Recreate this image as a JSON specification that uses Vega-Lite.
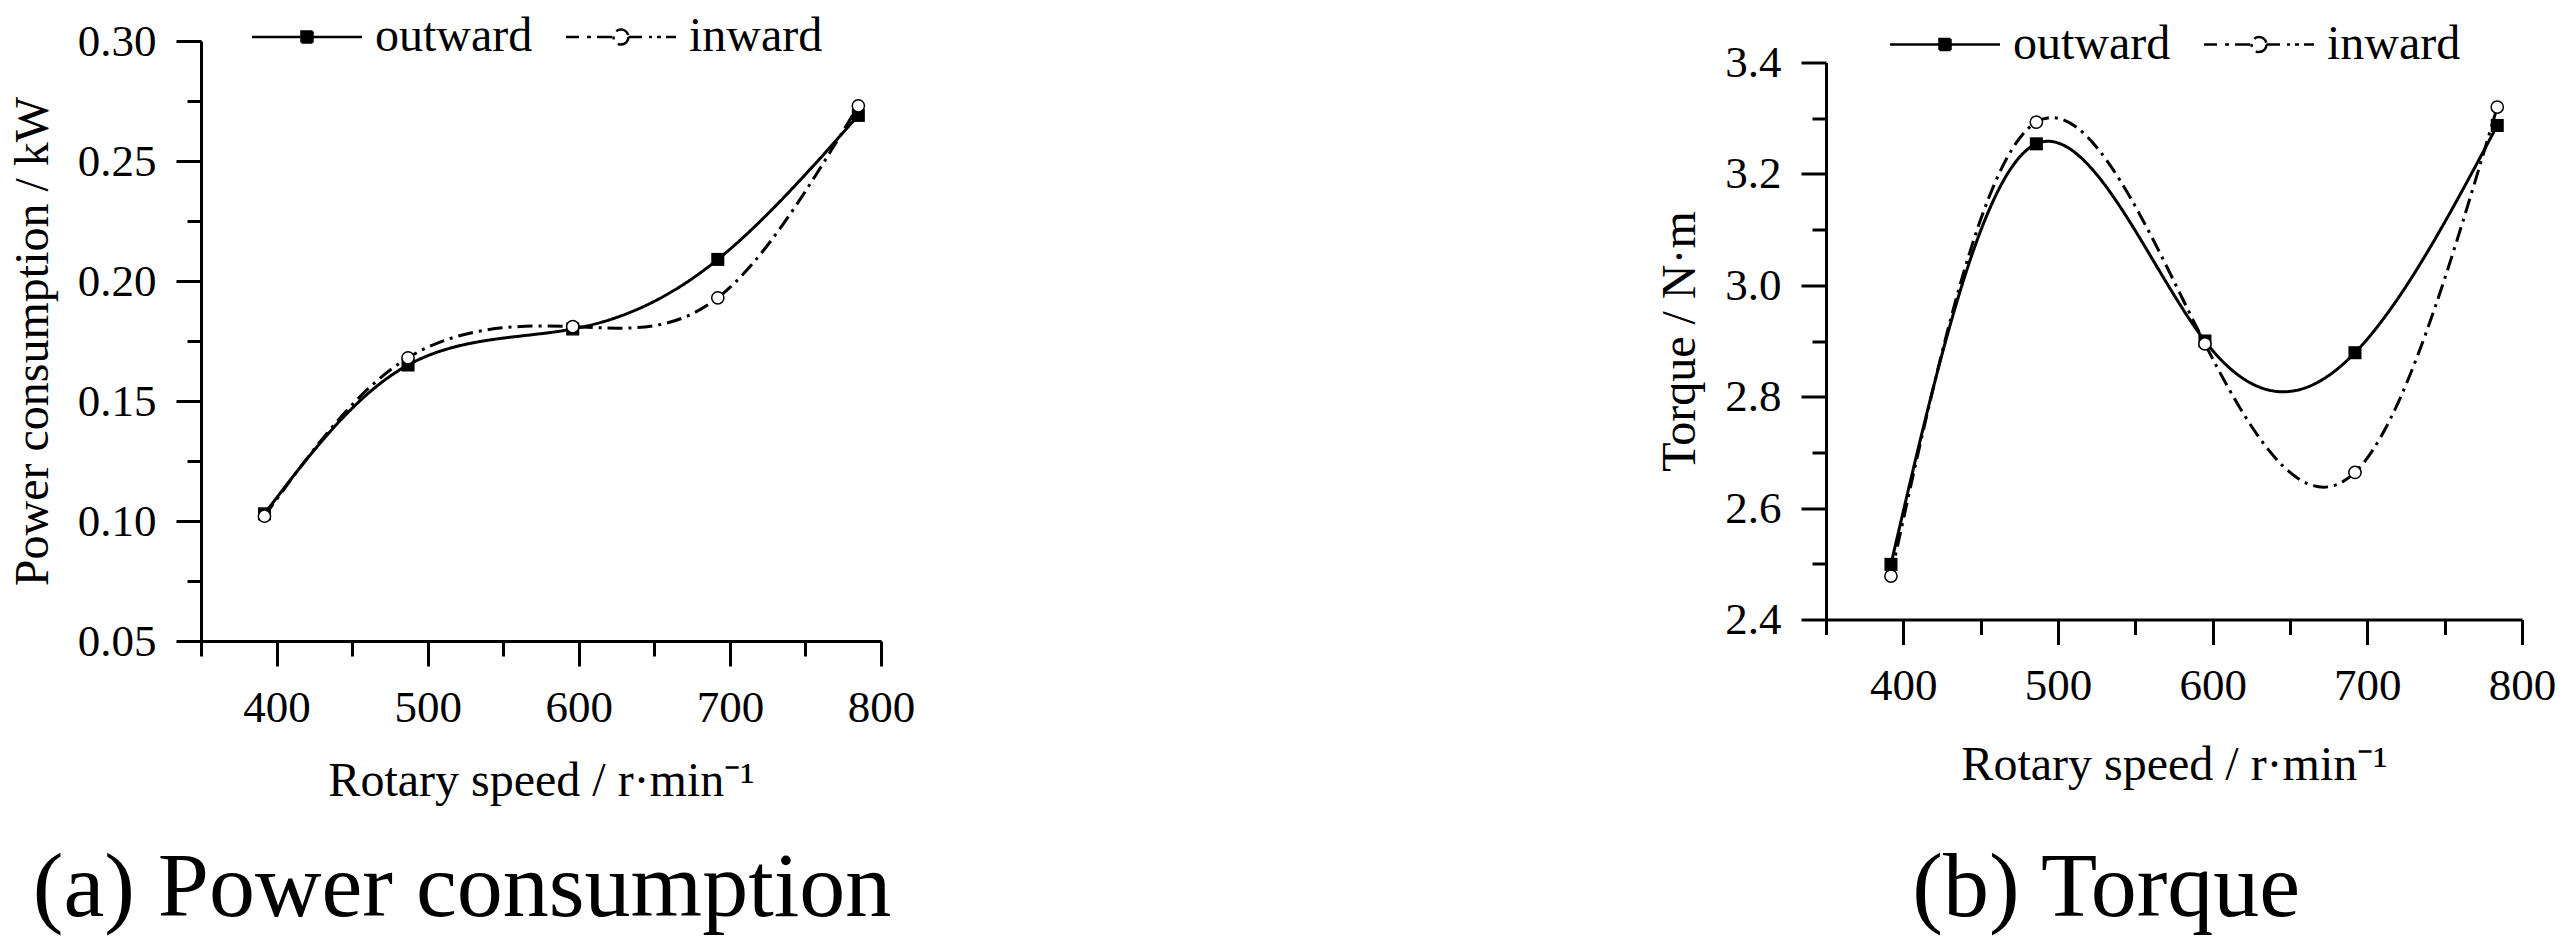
{
  "$schema": "https://vega.github.io/schema/vega-lite/v6.json",
  "background": "white",
  "padding": {"left": 9, "top": 13, "right": 5, "bottom": 5},
  "config": {
    "font": "Liberation Serif",
    "view": {"stroke": null},
    "axis": {"grid": false, "domainColor": "black", "domainWidth": 3, "tickColor": "black", "tickWidth": 3, "labelColor": "black", "titleColor": "black", "labelFontSize": 45, "titleFontSize": 48, "titleFontWeight": "normal", "labelFont": "Liberation Serif", "titleFont": "Liberation Serif"},
    "legend": {"labelFont": "Liberation Serif", "labelFontSize": 48, "labelColor": "black"},
    "title": {"font": "Liberation Serif", "fontWeight": "normal", "color": "black"}
  },
  "datasets": {
    "power": [
      {"speed": 392, "value": 0.103, "series": "outward"},
      {"speed": 487, "value": 0.165, "series": "outward"},
      {"speed": 596, "value": 0.180, "series": "outward"},
      {"speed": 692, "value": 0.209, "series": "outward"},
      {"speed": 785, "value": 0.269, "series": "outward"},
      {"speed": 392, "value": 0.102, "series": "inward"},
      {"speed": 487, "value": 0.168, "series": "inward"},
      {"speed": 596, "value": 0.181, "series": "inward"},
      {"speed": 692, "value": 0.193, "series": "inward"},
      {"speed": 785, "value": 0.273, "series": "inward"}
    ],
    "torque": [
      {"speed": 392, "value": 2.499, "series": "outward"},
      {"speed": 486, "value": 3.254, "series": "outward"},
      {"speed": 595, "value": 2.900, "series": "outward"},
      {"speed": 692, "value": 2.879, "series": "outward"},
      {"speed": 784, "value": 3.287, "series": "outward"},
      {"speed": 392, "value": 2.478, "series": "inward"},
      {"speed": 486, "value": 3.293, "series": "inward"},
      {"speed": 595, "value": 2.895, "series": "inward"},
      {"speed": 692, "value": 2.664, "series": "inward"},
      {"speed": 784, "value": 3.320, "series": "inward"}
    ]
  },
  "spacing": 945,
  "bounds": "flush",
  "align": "each",
  "center": true,
  "resolve": {"scale": {"shape": "independent", "fill": "independent", "stroke": "independent", "strokeDash": "independent"}},
  "hconcat": [
    {
      "width": 680,
      "height": 600,
      "data": {"name": "power"},
      "title": {"text": "(a) Power consumption", "orient": "bottom", "anchor": "middle", "frame": "bounds", "fontSize": 92, "fontWeight": "normal", "offset": 38},
      "resolve": {"axis": {"x": "independent", "y": "independent"}},
      "layer": [
        {
          "mark": {"type": "point", "filled": true, "stroke": "black", "strokeWidth": 2.5, "opacity": 0},
          "encoding": {
            "x": {"field": "speed", "type": "quantitative", "scale": {"domain": [350, 800], "nice": false, "zero": false}, "axis": null},
            "y": {"field": "value", "type": "quantitative", "scale": {"domain": [0.05, 0.3], "nice": false, "zero": false}, "axis": null},
            "shape": {"field": "series", "type": "nominal",
                      "scale": {"domain": ["outward", "inward"], "range": ["M-5.5,0H5.5M-0.55,-0.55H0.55V0.55H-0.55Z", "M-5.5,0H-4.2M-3.4,0H-3M-2.4,0H-0.75M0.75,0H2.1M2.8,0H3.1M3.6,0H4M4.5,0H5.5M0.75,0A0.75,0.75,0,1,1,-0.75,0A0.75,0.75,0,1,1,0.75,0Z"]},
                      "legend": {"title": null, "orient": "none", "legendX": 82, "legendY": -28, "direction": "horizontal", "symbolSize": 400, "symbolStrokeWidth": 2.5, "symbolStrokeColor": "black", "symbolOpacity": 1, "labelOffset": 44, "columnPadding": 28, "padding": 0, "labelFontSize": 48}},
            "fill": {"field": "series", "type": "nominal",
                     "scale": {"domain": ["outward", "inward"], "range": ["black", "white"]},
                     "legend": {"title": null, "orient": "none", "legendX": 82, "legendY": -28, "direction": "horizontal", "symbolSize": 400, "symbolStrokeWidth": 2.5, "symbolStrokeColor": "black", "symbolOpacity": 1, "labelOffset": 44, "columnPadding": 28, "padding": 0, "labelFontSize": 48}},
            "stroke": {"field": "series", "type": "nominal",
                     "scale": {"domain": ["outward", "inward"], "range": ["black", "black"]},
                     "legend": {"title": null, "orient": "none", "legendX": 82, "legendY": -28, "direction": "horizontal", "symbolSize": 400, "symbolStrokeWidth": 2.5, "symbolStrokeColor": "black", "symbolOpacity": 1, "labelOffset": 44, "columnPadding": 28, "padding": 0, "labelFontSize": 48}}
          }
        },
        {
          "mark": {"type": "line", "interpolate": "natural", "strokeWidth": 3, "color": "black"},
          "encoding": {
            "x": {"field": "speed", "type": "quantitative", "scale": {"domain": [350, 800], "nice": false, "zero": false},
                  "axis": {"orient": "bottom", "values": [400, 500, 600, 700, 800], "format": "d", "tickSize": 25, "labelPadding": 19, "labelOverlap": false, "labelFlush": false, "title": "Rotary speed / r·min⁻¹", "titlePadding": 27}},
            "y": {"field": "value", "type": "quantitative", "scale": {"domain": [0.05, 0.3], "nice": false, "zero": false},
                  "axis": {"orient": "left", "values": [0.05, 0.1, 0.15, 0.2, 0.25, 0.3], "format": ".2f", "tickSize": 25, "labelPadding": 20, "labelOverlap": false, "labelFlush": false, "title": "Power consumption / kW", "titlePadding": 20}},
            "strokeDash": {"field": "series", "type": "nominal", "scale": {"domain": ["outward", "inward"], "range": [[1, 0], [15, 6, 3, 6]]}, "legend": null}
          }
        },
        {
          "transform": [{"filter": "datum.series === 'outward'"}],
          "mark": {"type": "point", "shape": "square", "filled": true, "color": "black", "size": 170, "opacity": 1},
          "encoding": {
            "x": {"field": "speed", "type": "quantitative",
                  "axis": {"orient": "bottom", "values": [350, 450, 550, 650, 750], "tickSize": 15, "labels": false, "domain": false, "title": null}},
            "y": {"field": "value", "type": "quantitative",
                  "axis": {"orient": "left", "values": [0.075, 0.125, 0.175, 0.225, 0.275], "tickSize": 14, "labels": false, "domain": false, "title": null}}
          }
        },
        {
          "transform": [{"filter": "datum.series === 'inward'"}],
          "mark": {"type": "point", "shape": "circle", "filled": true, "fill": "white", "stroke": "black", "strokeWidth": 1.5, "size": 150, "opacity": 1},
          "encoding": {
            "x": {"field": "speed", "type": "quantitative", "axis": null},
            "y": {"field": "value", "type": "quantitative", "axis": null}
          }
        }
      ]
    },
    {
      "width": 696,
      "height": 557,
      "data": {"name": "torque"},
      "title": {"text": "(b) Torque", "orient": "bottom", "anchor": "middle", "frame": "bounds", "fontSize": 92, "fontWeight": "normal", "offset": 53},
      "resolve": {"axis": {"x": "independent", "y": "independent"}},
      "layer": [
        {
          "mark": {"type": "point", "filled": true, "stroke": "black", "strokeWidth": 2.5, "opacity": 0},
          "encoding": {
            "x": {"field": "speed", "type": "quantitative", "scale": {"domain": [350, 800], "nice": false, "zero": false}, "axis": null},
            "y": {"field": "value", "type": "quantitative", "scale": {"domain": [2.4, 3.4], "nice": false, "zero": false}, "axis": null},
            "shape": {"field": "series", "type": "nominal",
                      "scale": {"domain": ["outward", "inward"], "range": ["M-5.5,0H5.5M-0.55,-0.55H0.55V0.55H-0.55Z", "M-5.5,0H-4.2M-3.4,0H-3M-2.4,0H-0.75M0.75,0H2.1M2.8,0H3.1M3.6,0H4M4.5,0H5.5M0.75,0A0.75,0.75,0,1,1,-0.75,0A0.75,0.75,0,1,1,0.75,0Z"]},
                      "legend": {"title": null, "orient": "none", "legendX": 95, "legendY": -42, "direction": "horizontal", "symbolSize": 400, "symbolStrokeWidth": 2.5, "symbolStrokeColor": "black", "symbolOpacity": 1, "labelOffset": 44, "columnPadding": 28, "padding": 0, "labelFontSize": 48}},
            "fill": {"field": "series", "type": "nominal",
                     "scale": {"domain": ["outward", "inward"], "range": ["black", "white"]},
                     "legend": {"title": null, "orient": "none", "legendX": 95, "legendY": -42, "direction": "horizontal", "symbolSize": 400, "symbolStrokeWidth": 2.5, "symbolStrokeColor": "black", "symbolOpacity": 1, "labelOffset": 44, "columnPadding": 28, "padding": 0, "labelFontSize": 48}},
            "stroke": {"field": "series", "type": "nominal",
                     "scale": {"domain": ["outward", "inward"], "range": ["black", "black"]},
                     "legend": {"title": null, "orient": "none", "legendX": 95, "legendY": -42, "direction": "horizontal", "symbolSize": 400, "symbolStrokeWidth": 2.5, "symbolStrokeColor": "black", "symbolOpacity": 1, "labelOffset": 44, "columnPadding": 28, "padding": 0, "labelFontSize": 48}}
          }
        },
        {
          "mark": {"type": "line", "interpolate": "natural", "strokeWidth": 3, "color": "black"},
          "encoding": {
            "x": {"field": "speed", "type": "quantitative", "scale": {"domain": [350, 800], "nice": false, "zero": false},
                  "axis": {"orient": "bottom", "values": [400, 500, 600, 700, 800], "format": "d", "tickSize": 25, "labelPadding": 19, "labelOverlap": false, "labelFlush": false, "title": "Rotary speed / r·min⁻¹", "titlePadding": 33}},
            "y": {"field": "value", "type": "quantitative", "scale": {"domain": [2.4, 3.4], "nice": false, "zero": false},
                  "axis": {"orient": "left", "values": [2.4, 2.6, 2.8, 3.0, 3.2, 3.4], "format": ".1f", "tickSize": 25, "labelPadding": 20, "labelOverlap": false, "labelFlush": false, "title": "Torque / N·m", "titlePadding": 20}},
            "strokeDash": {"field": "series", "type": "nominal", "scale": {"domain": ["outward", "inward"], "range": [[1, 0], [15, 6, 3, 6]]}, "legend": null}
          }
        },
        {
          "transform": [{"filter": "datum.series === 'outward'"}],
          "mark": {"type": "point", "shape": "square", "filled": true, "color": "black", "size": 170, "opacity": 1},
          "encoding": {
            "x": {"field": "speed", "type": "quantitative",
                  "axis": {"orient": "bottom", "values": [350, 450, 550, 650, 750], "tickSize": 15, "labels": false, "domain": false, "title": null}},
            "y": {"field": "value", "type": "quantitative",
                  "axis": {"orient": "left", "values": [2.5, 2.7, 2.9, 3.1, 3.3], "tickSize": 14, "labels": false, "domain": false, "title": null}}
          }
        },
        {
          "transform": [{"filter": "datum.series === 'inward'"}],
          "mark": {"type": "point", "shape": "circle", "filled": true, "fill": "white", "stroke": "black", "strokeWidth": 1.5, "size": 150, "opacity": 1},
          "encoding": {
            "x": {"field": "speed", "type": "quantitative", "axis": null},
            "y": {"field": "value", "type": "quantitative", "axis": null}
          }
        }
      ]
    }
  ]
}
